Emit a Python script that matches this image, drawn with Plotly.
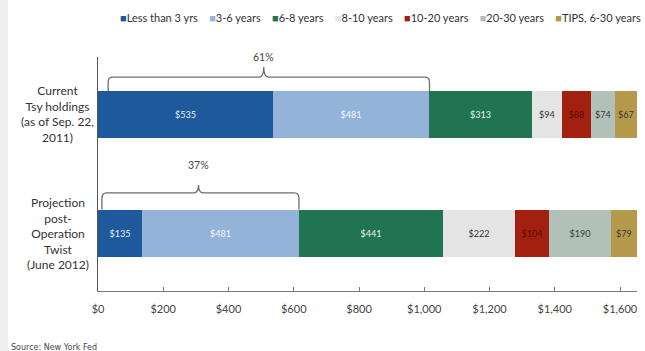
import plotly.graph_objects as go

# ---- data ----
buckets = ["Less than 3 yrs", "3-6 years", "6-8 years", "8-10 years",
           "10-20 years", "20-30 years", "TIPS, 6-30 years"]
current = [535, 481, 313, 94, 88, 74, 67]
projection = [135, 481, 441, 222, 104, 190, 79]
cat_labels = ["Current<br>Tsy holdings<br>(as of Sep. 22,<br>2011)",
              "Projection<br>post-<br>Operation<br>Twist<br>(June 2012)"]
bracket_labels = ["61%", "37%"]
tick_vals = [0, 200, 400, 600, 800, 1000, 1200, 1400, 1600]
tick_text = ["$0", "$200", "$400", "$600", "$800", "$1,000", "$1,200", "$1,400", "$1,600"]
source = "Source: New York Fed"

# ---- styles ----
colors = ["#1e5a9b", "#94b3d8", "#217452", "#e4e4e4", "#a1200f", "#b2c1b8", "#b69a4b"]
text_colors = ["#e8eef6", "#f4f7fb", "#e6f0ea", "#333333", "#5a0d05", "#3a3a3a", "#3a3a3a"]
FONT = "Lato"
y_pos = [1, 0]  # current on top, projection below
series = [current, projection]
BAR_W = 0.397

fig = go.Figure()
for i, b in enumerate(buckets):
    fig.add_trace(go.Bar(
        y=y_pos, x=[s[i] for s in series], orientation="h", name=b,
        width=BAR_W, marker=dict(color=colors[i], line=dict(width=0)),
        text=[f"${s[i]}" for s in series], textposition="inside",
        insidetextanchor="middle", textangle=0,
        textfont=dict(family=FONT, size=10, color=text_colors[i]),
        showlegend=False, hoverinfo="skip"))

total = sum(current)

# ---- brackets ----
bar_top = [1 + BAR_W / 2, 0 + BAR_W / 2]
horiz = [1.316, 0.338]
peak = [1.40, 0.405]
label_y = [1.485, 0.574]
left_off = [31, 12]
for k, s in enumerate(series):
    x0 = left_off[k]
    x1 = s[0] + s[1]
    xm = (s[0] + s[1]) / 2
    dx = 14
    ry = (horiz[k] - bar_top[k]) * 0.35
    yb, yh, yp = bar_top[k], horiz[k], peak[k]
    path = (f"M {x0},{yb} L {x0},{yh - ry} Q {x0},{yh} {x0 + dx},{yh} "
            f"L {xm - dx},{yh} Q {xm},{yh} {xm},{yp} Q {xm},{yh} {xm + dx},{yh} "
            f"L {x1 - dx},{yh} Q {x1},{yh} {x1},{yh - ry} L {x1},{yb}")
    fig.add_shape(type="path", path=path, xref="x", yref="y",
                  line=dict(color="#6e6e6e", width=1.3))
    fig.add_annotation(x=xm, y=label_y[k], xref="x", yref="y",
                       text=bracket_labels[k], showarrow=False,
                       font=dict(family=FONT, size=10.5, color="#444444"))

# ---- category labels ----
for k, lab in enumerate(cat_labels):
    fig.add_annotation(x=-0.075, y=y_pos[k], xref="paper", yref="y",
                       text=lab, showarrow=False, align="center",
                       xanchor="center", yanchor="middle",
                       font=dict(family=FONT, size=12, color="#333333"))

# ---- legend (manual) ----
leg_parts = []
for c, b in zip(colors, buckets):
    leg_parts.append(f"<span style='color:{c}'>■</span>{b}")
legend_text = "&nbsp;&nbsp;&nbsp;&nbsp;".join(leg_parts)
fig.add_annotation(x=1.012, y=1.0, xref="paper", yref="paper",
                   xanchor="right", yanchor="middle", yshift=40,
                   text=legend_text, showarrow=False,
                   font=dict(family=FONT, size=11, color="#333333"))

# ---- source ----
fig.add_annotation(x=-0.165, y=0, xref="paper", yref="paper",
                   xanchor="left", yanchor="middle", yshift=-56,
                   text=source, showarrow=False,
                   font=dict(family="DejaVu Sans", size=8, color="#444444"))

# left grey stripe
fig.add_shape(type="rect", xref="paper", yref="paper", x0=-0.182, x1=-0.167,
              y0=-0.26, y1=1.25, fillcolor="#eeeeee", line=dict(width=0), layer="below")

fig.update_layout(
    width=645, height=351,
    margin=dict(l=98, r=8, t=57, b=60),
    barmode="stack", bargap=0,
    plot_bgcolor="white", paper_bgcolor="white",
    uniformtext=dict(minsize=9, mode="show"),
    font=dict(family=FONT, color="#333333"),
)
fig.update_xaxes(range=[0, total], tickvals=tick_vals, ticktext=tick_text,
                 showgrid=False, zeroline=False, showline=True,
                 linecolor="#777777", linewidth=1.2, ticks="inside",
                 ticklen=4, tickcolor="#777777", ticklabelstandoff=8,
                 tickfont=dict(family=FONT, size=11, color="#444444"))
fig.update_yaxes(range=[-0.489, 1.485], showgrid=False, zeroline=False,
                 showline=True, linecolor="#555555", linewidth=1.2,
                 showticklabels=False, ticks="")

fig.write_html("out.html")
